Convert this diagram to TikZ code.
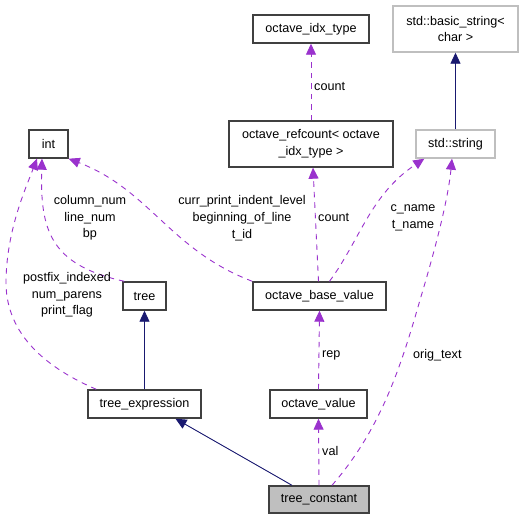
\documentclass[tikz,border=0pt]{standalone}
\usepackage{fontspec}
\setmainfont{Liberation Sans}
\usetikzlibrary{arrows.meta}
\definecolor{dep}{HTML}{9A32CD}
\definecolor{inh}{HTML}{191970}
\definecolor{grayb}{HTML}{BFBFBF}
\definecolor{fillc}{HTML}{BFBFBF}
\begin{document}
\begin{tikzpicture}[x=1pt,y=-1pt,
  txt/.style={font=\fontsize{12.6}{16.7}\selectfont},
  box/.style={txt,draw=black!75,line width=1.4pt,inner sep=0pt,align=center,fill=white},
  gbox/.style={box,draw=grayb},
  depline/.style={draw=dep,line width=0.9pt,dash pattern=on 5.5pt off 5pt,
     -{Triangle[length=11pt,width=10pt,fill=dep]}},
  inhline/.style={draw=inh,line width=0.9pt,
     -{Triangle[length=11pt,width=10pt,fill=inh]}},
  lbl/.style={txt,inner sep=0pt,align=center}
]
\useasboundingbox (0,0) rectangle (531,520);
% nodes
\node[box,minimum width=116pt,minimum height=28pt] (idx) at (311,29) {octave\_idx\_type};
\node[gbox,minimum width=125pt,minimum height=46pt] (bstr) at (455.5,29) {std::basic\_string<\\char >};
\node[box,minimum width=39pt,minimum height=28pt] (int) at (48.5,144) {int};
\node[box,minimum width=164pt,minimum height=46pt] (ref) at (311,144) {octave\_refcount< octave\\\_idx\_type >};
\node[gbox,minimum width=79pt,minimum height=28pt] (str) at (455.5,144) {std::string};
\node[box,minimum width=43pt,minimum height=28pt] (tree) at (144.5,296) {tree};
\node[box,minimum width=133pt,minimum height=28pt] (base) at (319.5,296) {octave\_base\_value};
\node[box,minimum width=113pt,minimum height=28pt] (texpr) at (144.5,404) {tree\_expression};
\node[box,minimum width=97pt,minimum height=28pt] (oval) at (318.5,404) {octave\_value};
\node[box,fill=fillc,minimum width=100pt,minimum height=27pt] (const) at (319,499.5) {tree\_constant};

% edges
\draw[depline] (ref.north) -- (idx.south);
\draw[inhline] (str.north) -- (bstr.south);
\draw[depline] (base.north west) .. controls (170,250) and (150,190) .. (int.south east);
\draw[depline] ([xshift=2pt]tree.north west) .. controls (50,265) and (40,230) .. ([xshift=-6.5pt]int.south);
\draw[depline] ([xshift=9pt]texpr.north west) .. controls (40,365) and (5,330) .. (6,280)
   .. controls (7,230) and (25,190) .. ([xshift=-11.5pt]int.south);
\draw[depline] ([xshift=-1pt]base.north) -- ([xshift=2pt]ref.south);
\draw[depline] ([xshift=10pt]base.north) .. controls (360,240) and (370,195) .. ([xshift=9pt]str.south west);
\draw[depline] ([xshift=13pt]const.north) .. controls (380,430) and (400,370) .. (420,300)
   .. controls (435,250) and (448,200) .. ([xshift=-3.5pt]str.south);
\draw[inhline] (texpr.north) -- (tree.south);
\draw[inhline] ([xshift=-27pt]const.north) -- ([xshift=31pt]texpr.south);
\draw[depline] (oval.north) -- (base.south);
\draw[depline] (const.north) -- (oval.south);

% labels
\node[lbl,anchor=west] (l1) at (314,86) {count};
\node[lbl] (l2) at (242,218) {curr\_print\_indent\_level\\beginning\_of\_line\\t\_id};
\node[lbl,anchor=west] (l3) at (318,217) {count};
\node[lbl] (l4) at (413,218) {c\_name\\t\_name};
\node[lbl] (l5) at (90,218) {column\_num\\line\_num\\bp};
\node[lbl] (l6) at (67,295) {postfix\_indexed\\num\_parens\\print\_flag};
\node[lbl,anchor=west] (l7) at (322,355) {rep};
\node[lbl,anchor=west] (l8) at (413,355) {orig\_text};
\node[lbl,anchor=west] (l9) at (322,451) {val};
\end{tikzpicture}
\end{document}
